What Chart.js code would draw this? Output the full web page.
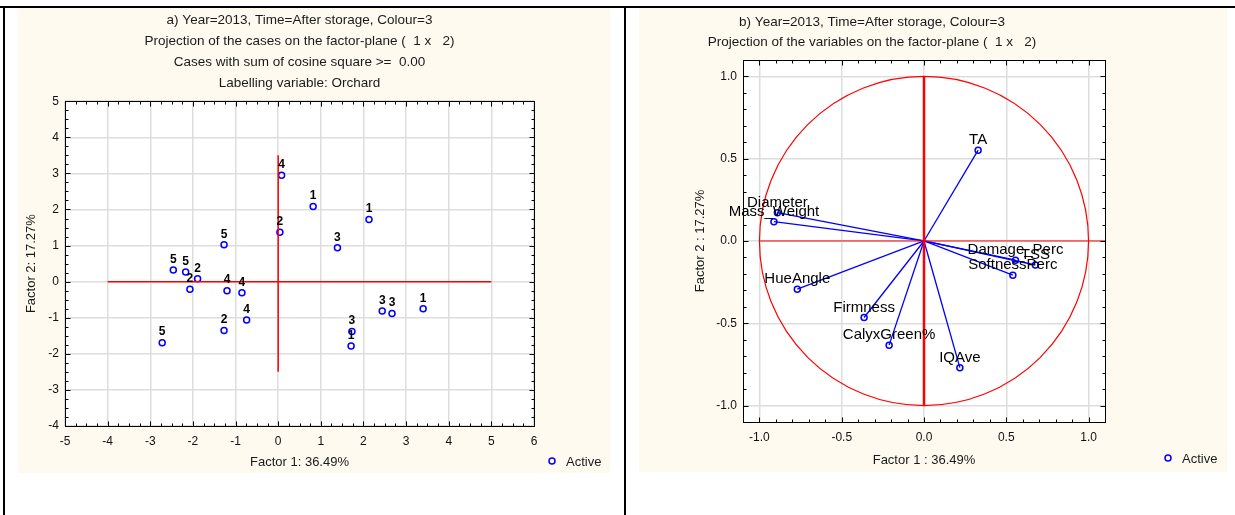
<!DOCTYPE html>
<html>
<head>
<meta charset="utf-8">
<script src="https://cdn.jsdelivr.net/npm/chart.js@4.4.1/dist/chart.umd.min.js"></script>
<style>
  body { margin: 0; background: #fff; width: 1235px; height: 515px; position: relative; overflow: hidden; }
  .rule { position: absolute; background: #000; }
  .panel { position: absolute; background: #fffaf0; }
  .panel canvas { position: absolute; left: 0; top: 0; }
</style>
</head>
<body>
<div class="rule" style="left:0;top:6px;width:1235px;height:2px"></div>
<div class="rule" style="left:3px;top:6px;width:2px;height:509px"></div>
<div class="rule" style="left:624px;top:6px;width:2px;height:509px"></div>
<div class="panel" style="left:18px;top:8px;width:592px;height:465px"><canvas id="casesChart" width="592" height="465"></canvas></div>
<div class="panel" style="left:639px;top:8px;width:588px;height:464px"><canvas id="varsChart" width="588" height="464"></canvas></div>

<script>
// a) cases on the factor plane, labelled by orchard
const caseLabels = ['4', '1', '1', '2', '3', '5', '5', '5', '2', '2', '4', '4', '4', '2', '5', '3', '1', '3', '3', '1'];
const caseF1 = [0.08, 0.82, 2.13, 0.04, 1.39, -1.27, -2.46, -2.17, -1.89, -2.07, -1.20, -0.85, -0.74, -1.27, -2.72, 1.73, 1.71, 2.44, 2.67, 3.40];
const caseF2 = [2.95, 2.08, 1.72, 1.37, 0.94, 1.02, 0.32, 0.27, 0.08, -0.21, -0.25, -0.31, -1.06, -1.35, -1.69, -1.38, -1.78, -0.81, -0.88, -0.75];
const caseAxisH = [-4, 5];     // red line along factor 2 = 0
const caseAxisV = [-2.5, 3.5]; // red line along factor 1 = 0
const casesTitle = [
  'a) Year=2013, Time=After storage, Colour=3',
  'Projection of the cases on the factor-plane (  1 x   2)',
  'Cases with sum of cosine square >=  0.00',
  'Labelling variable: Orchard'
];

// b) variables on the factor plane
const varNames = ['Diameter', 'Mass_Weight', 'HueAngle', 'Firmness', 'CalyxGreen%', 'IQAve', 'SoftnessPerc', 'Damage_Perc', 'TSS', 'TA'];
const varF1 = [-0.891, -0.912, -0.770, -0.364, -0.212, 0.218, 0.540, 0.556, 0.677, 0.329];
const varF2 = [0.172, 0.117, -0.293, -0.465, -0.633, -0.770, -0.208, -0.117, -0.146, 0.552];
const varAxisH = [-1, 1.1];
const varAxisV = [-1, 1];
const circleRadius = 1;
const varsTitle = [
  'b) Year=2013, Time=After storage, Colour=3',
  'Projection of the variables on the factor-plane (  1 x   2)'
];

const FONT = '"Liberation Sans", Arial, Helvetica, sans-serif';
Chart.defaults.font.family = FONT;
Chart.defaults.color = '#1a1a1a';
Chart.defaults.animation = false;

function fixSize(size) {
  return scale => {
    if (scale.isHorizontal()) scale.height = size;
    else scale.width = size;
  };
}

const plotBackground = {
  id: 'plotBackground',
  beforeDraw(chart) {
    const a = chart.chartArea, ctx = chart.ctx;
    ctx.save();
    ctx.fillStyle = '#fff';
    ctx.fillRect(a.left, a.top, a.width, a.height);
    ctx.restore();
  }
};

// box round the plot, with inward major and minor ticks on all sides
const frameTicks = {
  id: 'frameTicks',
  afterDraw(chart, args, opts) {
    const { ctx, chartArea: a, scales } = chart;
    ctx.save();
    ctx.strokeStyle = '#000';
    ctx.lineWidth = 1;
    const l = Math.round(a.left) + 0.5, r = Math.round(a.right) + 0.5;
    const t = Math.round(a.top) + 0.5, b = Math.round(a.bottom) + 0.5;
    ctx.strokeRect(l, t, r - l, b - t);
    const each = (scale, step, major, fn) => {
      for (let k = Math.ceil(scale.min / step - 1e-9); k * step <= scale.max + 1e-9; k++) {
        const v = k * step;
        const isMajor = Math.abs(v / major - Math.round(v / major)) < 1e-6;
        fn(Math.round(scale.getPixelForValue(v)) + 0.5, isMajor ? 5 : 3);
      }
    };
    ctx.beginPath();
    each(scales.x, opts.minorX, opts.majorX, (p, len) => {
      ctx.moveTo(p, b); ctx.lineTo(p, b - len);
      ctx.moveTo(p, t); ctx.lineTo(p, t + len);
    });
    each(scales.y, opts.minorY, opts.majorY, (p, len) => {
      ctx.moveTo(l, p); ctx.lineTo(l + len, p);
      ctx.moveTo(r, p); ctx.lineTo(r - len, p);
    });
    ctx.stroke();
    ctx.restore();
  }
};

// text above each marker of the "Active" set
const pointLabels = {
  id: 'pointLabels',
  afterDatasetsDraw(chart, args, opts) {
    const i = chart.data.datasets.findIndex(d => d.label === 'Active');
    const meta = chart.getDatasetMeta(i);
    const ctx = chart.ctx;
    ctx.save();
    ctx.font = opts.font;
    ctx.fillStyle = '#000';
    ctx.textAlign = 'center';
    ctx.textBaseline = 'middle';
    meta.data.forEach((pt, j) => ctx.fillText(opts.labels[j], pt.x, pt.y - opts.offset));
    ctx.restore();
  }
};

const activeLegend = {
  id: 'activeLegend',
  afterDraw(chart, args, opts) {
    const ds = chart.data.datasets.find(d => d.label === 'Active');
    const a = chart.chartArea, ctx = chart.ctx;
    const x = a.right + opts.dx, y = a.bottom + opts.dy;
    ctx.save();
    ctx.strokeStyle = ds.borderColor;
    ctx.lineWidth = 1.5;
    ctx.beginPath();
    ctx.arc(x, y, 3, 0, Math.PI * 2);
    ctx.stroke();
    ctx.font = '13px ' + FONT;
    ctx.fillStyle = '#1a1a1a';
    ctx.textBaseline = 'middle';
    ctx.fillText(ds.label, x + 14, y + 1);
    ctx.restore();
  }
};

const unitCircle = {
  id: 'unitCircle',
  beforeDatasetsDraw(chart, args, opts) {
    const { ctx, chartArea: a, scales: { x, y } } = chart;
    const cx = x.getPixelForValue(0), cy = y.getPixelForValue(0);
    const rx = x.getPixelForValue(opts.radius) - cx;
    const ry = cy - y.getPixelForValue(opts.radius);
    ctx.save();
    ctx.beginPath();
    ctx.rect(a.left, a.top, a.width, a.height);
    ctx.clip();
    ctx.strokeStyle = '#ff0000';
    ctx.lineWidth = 1.2;
    ctx.beginPath();
    ctx.ellipse(cx, cy, rx, ry, 0, 0, Math.PI * 2);
    ctx.stroke();
    ctx.restore();
  }
};

function axisScale(min, max, step, title, titlePad, size, tickPad, fmt) {
  return {
    type: 'linear',
    min: min,
    max: max,
    afterFit: fixSize(size),
    border: { display: false },
    grid: { color: '#dddddd', lineWidth: 1.5, drawTicks: false },
    ticks: {
      stepSize: step,
      includeBounds: false,
      padding: tickPad,
      color: '#111',
      font: { size: 12 },
      callback: fmt || (v => String(v))
    },
    title: { display: true, text: title, font: { size: 13 }, color: '#1a1a1a', padding: titlePad }
  };
}

function redLine(xs, ys, width) {
  return {
    label: 'axis',
    data: xs.map((v, i) => ({ x: v, y: ys[i] })),
    showLine: true,
    borderColor: '#ff0000',
    borderWidth: width,
    pointRadius: 0
  };
}

new Chart(document.getElementById('casesChart'), {
  type: 'scatter',
  data: {
    datasets: [
      redLine(caseAxisH, [0, 0], 1.5),
      redLine([0, 0], caseAxisV, 1.5),
      {
        label: 'Active',
        data: caseF1.map((v, i) => ({ x: v, y: caseF2[i] })),
        borderColor: '#0000ff',
        backgroundColor: 'rgba(0,0,0,0)',
        borderWidth: 1.5,
        pointRadius: 3
      }
    ]
  },
  options: {
    responsive: false,
    layout: { padding: { left: 0, right: 76, top: 0, bottom: 0 } },
    scales: {
      x: axisScale(-5, 6, 1, 'Factor 1: 36.49%', { top: 0, bottom: 3 }, 47, 8),
      y: axisScale(-4, 5, 1, 'Factor 2: 17.27%', { top: 6, bottom: 0 }, 47, 6)
    },
    plugins: {
      legend: { display: false },
      tooltip: { enabled: false },
      title: {
        display: true,
        text: casesTitle,
        fullSize: false,
        color: '#1a1a1a',
        font: { size: 13.5, weight: 'normal', lineHeight: 1.56 },
        padding: { top: 1.5, bottom: 7.5 }
      },
      pointLabels: { labels: caseLabels, font: 'bold 12px ' + FONT, offset: 10.5 },
      frameTicks: { minorX: 0.25, majorX: 1, minorY: 0.25, majorY: 1 },
      activeLegend: { dx: 18, dy: 35 }
    }
  },
  plugins: [plotBackground, frameTicks, pointLabels, activeLegend]
});

const vectorSets = varNames.map((name, i) => ({
  label: name,
  data: [{ x: 0, y: 0 }, { x: varF1[i], y: varF2[i] }],
  showLine: true,
  borderColor: '#0000ff',
  borderWidth: 1.3,
  pointRadius: 0
}));

new Chart(document.getElementById('varsChart'), {
  type: 'scatter',
  data: {
    datasets: [
      redLine(varAxisH, [0, 0], 1),
      redLine([0, 0], varAxisV, 2.5),
      ...vectorSets,
      {
        label: 'Active',
        data: varF1.map((v, i) => ({ x: v, y: varF2[i] })),
        borderColor: '#0000ff',
        backgroundColor: 'rgba(0,0,0,0)',
        borderWidth: 1.5,
        pointRadius: 3
      }
    ]
  },
  options: {
    responsive: false,
    layout: { padding: { left: 0, right: 122, top: 0, bottom: 0 } },
    scales: {
      x: axisScale(-1.1, 1.1, 0.5, 'Factor 1 : 36.49%', { top: 0, bottom: 4 }, 50, 8, v => v.toFixed(1)),
      y: axisScale(-1.1, 1.1, 0.5, 'Factor 2 : 17.27%', { top: 54, bottom: 0 }, 104, 6, v => v.toFixed(1))
    },
    plugins: {
      legend: { display: false },
      tooltip: { enabled: false },
      title: {
        display: true,
        text: varsTitle,
        fullSize: true,
        color: '#1a1a1a',
        font: { size: 13.5, weight: 'normal', lineHeight: 1.48 },
        padding: { top: 4, bottom: 8 }
      },
      unitCircle: { radius: circleRadius },
      pointLabels: { labels: varNames, font: '15px ' + FONT, offset: 10 },
      frameTicks: { minorX: 0.1, majorX: 0.5, minorY: 0.1, majorY: 0.5 },
      activeLegend: { dx: 63, dy: 36 }
    }
  },
  plugins: [plotBackground, unitCircle, frameTicks, pointLabels, activeLegend]
});
</script>
</body>
</html>
